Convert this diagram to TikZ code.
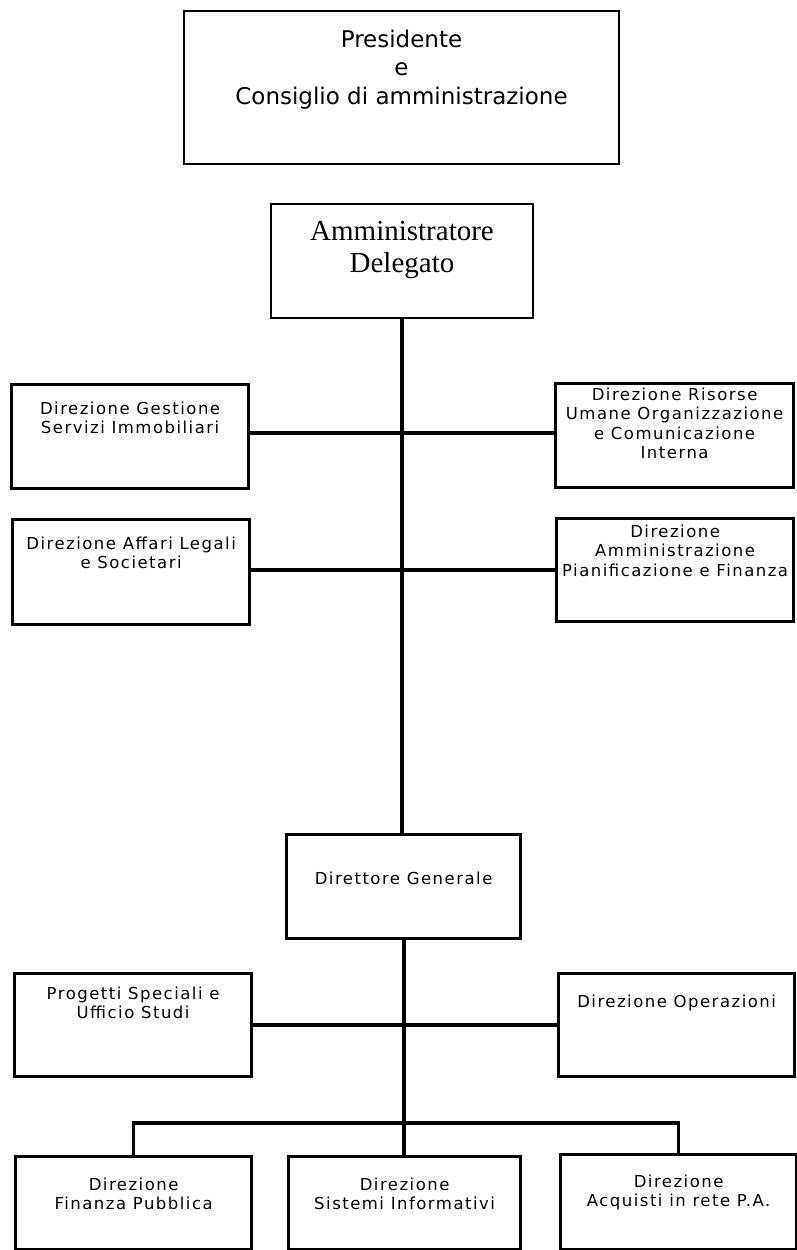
\documentclass[tikz,border=0pt]{standalone}
\usepackage{fontspec}
\newfontfamily\boxfont[LetterSpace=9]{DejaVu Sans}
\newfontfamily\topfont{DejaVu Sans}
\newfontfamily\adfont{Liberation Serif}
\newcommand\bxtext[4]{\parbox[c][#2][t]{#1}{\centering\vspace*{#3}#4\par}}
\tikzset{
  orgbox/.style={draw, inner sep=0pt, line width=3.2pt, anchor=north west,
    font=\boxfont\fontsize{16.5}{19.5}\selectfont},
  topbox/.style={orgbox, line width=2pt},
  link/.style={line width=3.4pt},
  trunk/.style={line width=4.2pt}
}
\begin{document}
\begin{tikzpicture}[x=1pt,y=-1pt]
\useasboundingbox (0,0) rectangle (797,1250);
\fill[white] (0,0) rectangle (797,1250);
% top boxes
\node[topbox, font=\topfont\fontsize{23}{28.5}\selectfont] (P) at (183,10)
  {\bxtext{435pt}{153pt}{19pt}{Presidente\\e\\Consiglio di amministrazione}};
\node[topbox, font=\adfont\fontsize{29}{32}\selectfont] (AD) at (270,203)
  {\bxtext{262pt}{114pt}{17pt}{Amministratore\\Delegato}};
% staff boxes
\node[orgbox] (DGSI) at (10,383)
  {\bxtext{237pt}{104pt}{17pt}{Direzione Gestione\\Servizi Immobiliari}};
\node[orgbox] (DRU) at (554,382)
  {\bxtext{238pt}{104pt}{4pt}{Direzione Risorse\\Umane Organizzazione\\e Comunicazione\\Interna}};
\node[orgbox] (DALS) at (11,518)
  {\bxtext{237pt}{105pt}{17pt}{Direzione Affari Legali\\e Societari}};
\node[orgbox] (DAPF) at (555,517)
  {\bxtext{237pt}{103pt}{6pt}{Direzione\\Amministrazione\\Pianificazione e Finanza}};
% direttore generale
\node[orgbox] (DG) at (285,833)
  {\bxtext{234pt}{104pt}{37pt}{Direttore Generale}};
\node[orgbox] (PSUS) at (13,972)
  {\bxtext{237pt}{103pt}{13pt}{Progetti Speciali e\\Ufficio Studi}};
\node[orgbox] (DO) at (557,972)
  {\bxtext{236pt}{103pt}{21pt}{Direzione Operazioni}};
% bottom row
\node[orgbox] (DFP) at (14,1155)
  {\bxtext{236pt}{93pt}{21pt}{Direzione\\Finanza Pubblica}};
\node[orgbox] (DSI) at (287,1155)
  {\bxtext{232pt}{93pt}{21pt}{Direzione\\Sistemi Informativi}};
\node[orgbox] (DAR) at (559,1153)
  {\bxtext{236pt}{95pt}{20pt}{Direzione\\Acquisti in rete P.A.}};
% connectors
\coordinate (t1) at (401,433);
\coordinate (t2) at (401,570);
\coordinate (t3) at (403,1025);
\coordinate (bus) at (403,1123);
\draw[trunk] (AD.south) -- (AD.south |- DG.north);
\draw[link] (DGSI.east |- t1) -- (t1) -- (DRU.west |- t1);
\draw[link] (DALS.east |- t2) -- (t2) -- (DAPF.west |- t2);
\draw[trunk] (DG.south) -- (DG.south |- DSI.north);
\draw[link] (PSUS.east |- t3) -- (t3) -- (DO.west |- t3);
\draw[link] (DFP.north) |- (bus) -| (DAR.north);
\end{tikzpicture}
\end{document}
